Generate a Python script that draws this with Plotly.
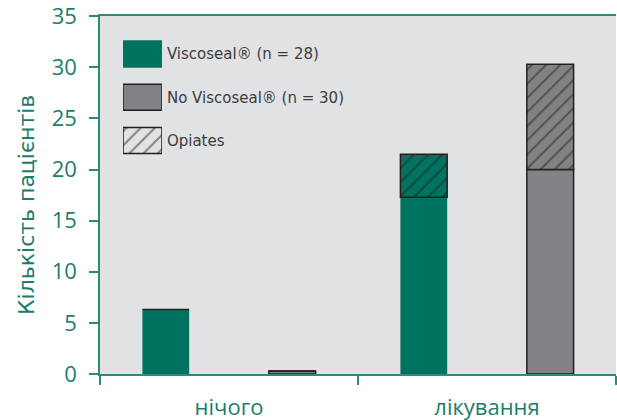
import plotly.graph_objects as go

# ---- data ----
categories = ["нічого", "лікування"]
viscoseal = [6.3, 17.3]
viscoseal_opiates = [0.0, 4.2]
no_viscoseal = [0.3, 20.0]
no_viscoseal_opiates = [0.0, 10.3]
legend_labels = ["Viscoseal® (n = 28)", "No Viscoseal® (n = 30)", "Opiates"]
y_title = "Кількість пацієнтів"
y_ticks = [0, 5, 10, 15, 20, 25, 30, 35]

GREEN = "#007360"
TEXT_GREEN = "#1d7d6c"
AXIS_GREEN = "#2e8a79"
GRAY = "#818285"
DARK = "#231f20"
BG = "#e1e2e4"
FONT = "Open Sans"
FONT2 = "DejaVu Sans"

visco_base_top = [a for a in viscoseal]
novisco_base_top = [a for a in no_viscoseal]

hatch = dict(shape="/", fgcolor=DARK, size=10, solidity=0.2)

fig = go.Figure()
fig.add_trace(go.Bar(x=categories, y=viscoseal, offsetgroup="v",
                     marker=dict(color=GREEN, line=dict(color=GREEN, width=0)),
                     showlegend=False))
fig.add_trace(go.Bar(x=categories, y=viscoseal_opiates, base=visco_base_top, offsetgroup="v",
                     marker=dict(color=GREEN, line=dict(color=DARK, width=1.5), pattern=hatch),
                     showlegend=False))
fig.add_trace(go.Bar(x=categories, y=no_viscoseal, offsetgroup="n",
                     marker=dict(color=GRAY, line=dict(color=DARK, width=1.5)),
                     showlegend=False))
fig.add_trace(go.Bar(x=categories, y=no_viscoseal_opiates, base=novisco_base_top, offsetgroup="n",
                     marker=dict(color=GRAY, line=dict(color=DARK, width=1.5), pattern=hatch),
                     showlegend=False))

# legend drawn as a small inset of bars
leg_colors = [GREEN, GRAY, BG]
leg_lines = [GREEN, DARK, DARK]
leg_shapes = ["", "", "/"]
for lab, c, lc, sh in zip(legend_labels, leg_colors, leg_lines, leg_shapes):
    fig.add_trace(go.Bar(x=[1], y=[lab], orientation="h", xaxis="x2", yaxis="y2",
                         width=0.6,
                         marker=dict(color=c, line=dict(color=lc, width=1.5),
                                     pattern=dict(shape=sh, fgcolor=DARK, size=10, solidity=0.2)),
                         showlegend=False, hoverinfo="skip"))

fig.update_layout(
    width=617, height=420,
    margin=dict(l=100, r=1, t=16, b=46),
    paper_bgcolor="white", plot_bgcolor=BG,
    barmode="group", bargap=0.02, bargroupgap=0.63,
    font=dict(family=FONT, color=TEXT_GREEN),
    xaxis=dict(type="category", range=[-0.5, 1.5], tickson="boundaries", automargin=False,
               ticks="outside", ticklen=9, tickwidth=2, tickcolor=AXIS_GREEN,
               showline=True, linecolor=AXIS_GREEN, linewidth=1.5, mirror=True,
               showgrid=False, zeroline=False,
               tickfont=dict(size=22, color=TEXT_GREEN), ticklabelstandoff=13),
    yaxis=dict(range=[0, 35.02], tickvals=y_ticks, ticks="outside", ticklen=9, tickwidth=2,
               automargin=False, ticklabeloverflow="allow",
               tickcolor=AXIS_GREEN, showline=True, linecolor=AXIS_GREEN, linewidth=1.5,
               showgrid=False, zeroline=False, ticklabelstandoff=8,
               tickfont=dict(size=22, color=TEXT_GREEN)),
    xaxis2=dict(domain=[0.0446, 0.120], range=[0, 1], anchor="y2",
                visible=False, fixedrange=True),
    yaxis2=dict(domain=[0.592, 0.954], anchor="x2", type="category", automargin=False,
                autorange="reversed", side="right", showline=False, showgrid=False,
                zeroline=False, ticks="", ticklabelstandoff=4,
                tickfont=dict(size=15, color="#3c3c3c", family=FONT2)),
    annotations=[dict(text=y_title, textangle=-90, xref="paper", yref="paper",
                      x=-0.1434, y=0.472, xanchor="center", yanchor="middle",
                      showarrow=False, font=dict(size=22, color=TEXT_GREEN, family=FONT2))],
)

fig.write_html("out.html", config={"displayModeBar": False},
               post_script="document.body.style.margin='0';")
